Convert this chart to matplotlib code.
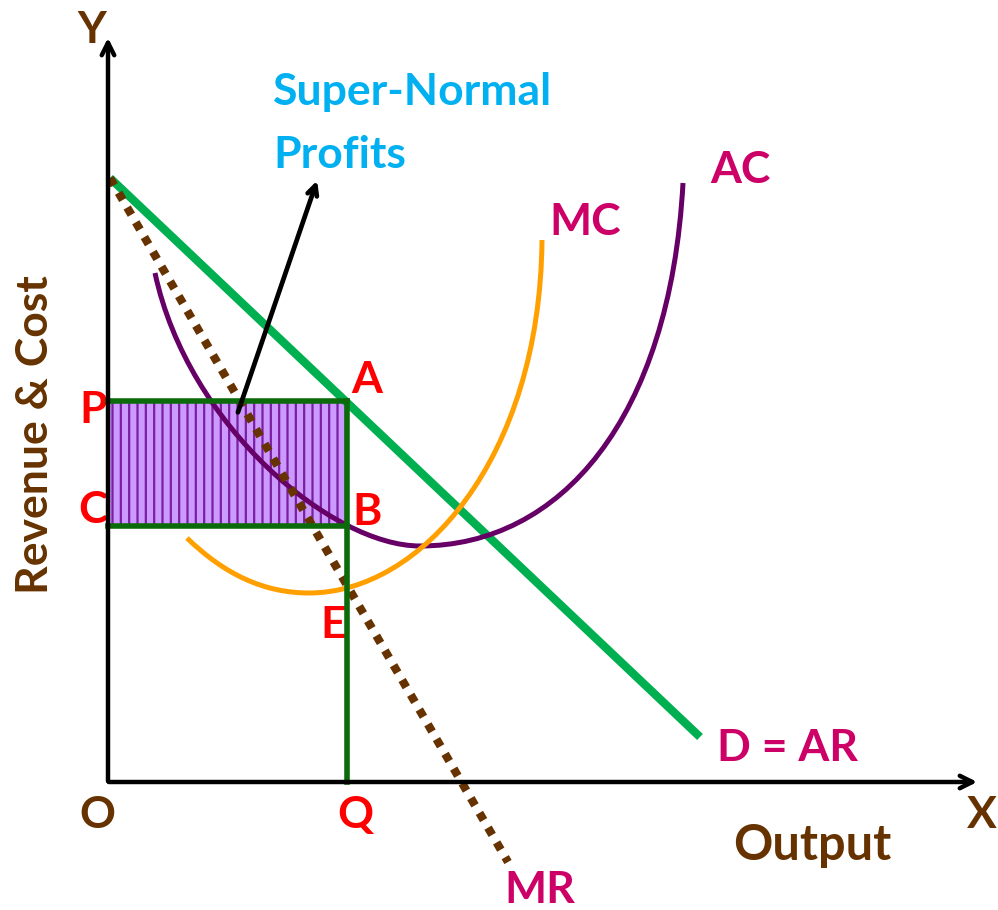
import matplotlib
matplotlib.use("Agg")
import matplotlib.pyplot as plt
from matplotlib.path import Path
from matplotlib.patches import PathPatch, Rectangle

# coordinates measured from the origin O (x to the right, y upward)
demand_x = [2, 592]
demand_y = [604, 45]
mr_x = [2, 400]
mr_y = [604, -80]

# cubic bezier vertices (start, ctrl, ctrl, end, ctrl, ctrl, end)
ac_x = [47, 80, 225, 312, 452, 562, 575]
ac_y = [509, 355, 236, 236, 236, 362, 599]
mc_x = [79, 117, 157, 201, 312, 432, 434]
mc_y = [244, 207, 189, 189, 189, 322, 542]

price = 381   # P / A
cost = 256    # C / B
qty = 239     # Q

arrow_from = (129, 367)
arrow_to = (210, 604)

font = "Lato"
brown = "#663300"
red = "#ff0000"
pink = "#cc0066"

plt.rcParams["hatch.linewidth"] = 1.6

fig = plt.figure(figsize=(9.98, 9.10), dpi=100)
ax = fig.add_axes([0, 0, 1, 1])
ax.set_xlim(-108, 890)
ax.set_ylim(-128, 782)
ax.axis("off")

# profit rectangle
ax.add_patch(Rectangle((0, cost), qty, price - cost, facecolor="#cc99ff",
                       edgecolor="#7a1fa2", hatch="||", linewidth=0, zorder=1))

# axes with open arrowheads
ax.annotate("", xy=(0, 747), xytext=(0, -2),
            arrowprops=dict(arrowstyle="->,head_length=0.9,head_width=0.45", lw=3.2, color="black"), zorder=6)
ax.annotate("", xy=(872, 0), xytext=(-2, 0),
            arrowprops=dict(arrowstyle="->,head_length=0.9,head_width=0.45", lw=3.2, color="black"), zorder=6)

# demand and MR
ax.plot(demand_x, demand_y, color="#00b050", lw=6, solid_capstyle="butt", zorder=3)
ax.plot(mr_x, mr_y, color=brown, lw=6, linestyle=(0, (1, 1.05)), dash_capstyle="butt", zorder=4)

# cost curves
codes = [Path.MOVETO] + [Path.CURVE4] * 6
ax.add_patch(PathPatch(Path(list(zip(ac_x, ac_y)), codes), facecolor="none",
                       edgecolor="#660066", lw=3.6, zorder=3))
ax.add_patch(PathPatch(Path(list(zip(mc_x, mc_y)), codes), facecolor="none",
                       edgecolor="#ffa000", lw=3.6, zorder=3))

# rectangle outline and Q line
g = "#0b6b0b"
ax.plot([0, qty], [price, price], color=g, lw=4, zorder=5)
ax.plot([0, qty], [cost, cost], color=g, lw=4, zorder=5)
ax.plot([qty, qty], [price, 0], color=g, lw=4, zorder=5)

# pointer arrow
ax.annotate("", xy=arrow_to, xytext=arrow_from,
            arrowprops=dict(arrowstyle="->,head_length=0.7,head_width=0.35", lw=3.4, color="black"), zorder=7)

kw = dict(fontfamily=font, fontweight="bold", fontsize=32)
ax.text(165, 690, "Super-Normal", color="#00b0f0", ha="left", va="center", **kw)
ax.text(165, 627, "Profits", color="#00b0f0", ha="left", va="center", **kw)

ax.text(-16, 752, "Y", color=brown, ha="center", va="center", **kw)
ax.text(-11, -33, "O", color=brown, ha="center", va="center", **kw)
ax.text(889, -33, "X", color=brown, ha="right", va="center", **kw)
ax.text(247, -33, "Q", color=red, ha="center", va="center", **kw)
ax.text(-15, 372, "P", color=red, ha="center", va="center", **kw)
ax.text(-15, 272, "C", color=red, ha="center", va="center", **kw)
ax.text(259, 402, "A", color=red, ha="center", va="center", **kw)
ax.text(259, 270, "B", color=red, ha="center", va="center", **kw)
ax.text(225, 157, "E", color=red, ha="center", va="center", **kw)
ax.text(477, 560, "MC", color=pink, ha="center", va="center", **kw)
ax.text(632, 612, "AC", color=pink, ha="center", va="center", **kw)
ax.text(609, 34, "D = AR", color=pink, ha="left", va="center", **kw)
ax.text(432, -108, "MR", color=pink, ha="center", va="center", **kw)
ax.text(704, -63, "Output", color=brown, ha="center", va="center", fontfamily=font,
        fontweight="bold", fontsize=35)
ax.text(-73, 347, "Revenue & Cost", color=brown, ha="center", va="center", rotation=90, **kw)

fig.savefig("out.png", dpi=100)
